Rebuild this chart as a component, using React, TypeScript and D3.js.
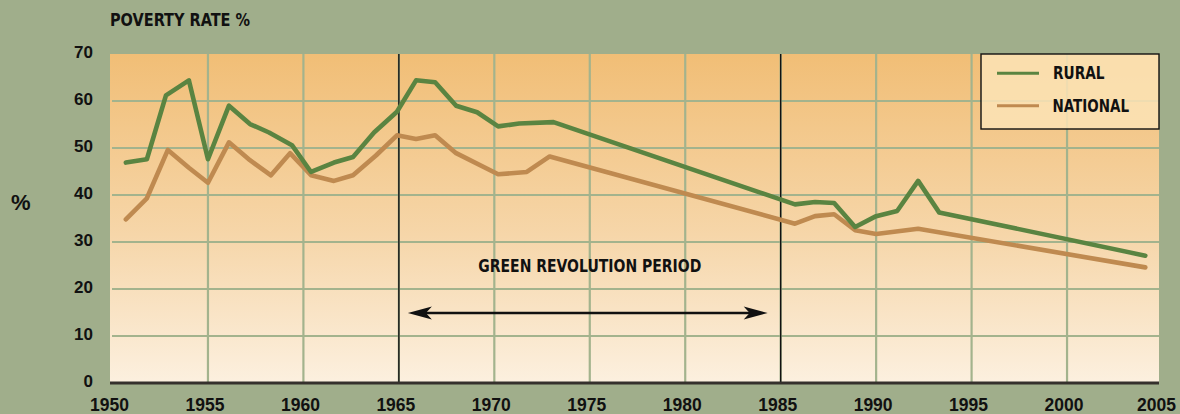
import React from "react";
import * as d3 from "d3";

const ruralYears = [1950.7, 1951.8, 1952.8, 1954.0, 1955.0, 1956.1, 1957.2, 1958.2, 1959.4, 1960.4, 1961.6, 1962.6, 1963.7, 1964.9, 1965.9, 1966.9, 1968.0, 1969.1, 1970.2, 1971.3, 1973.1, 1985.75, 1986.8, 1987.8, 1988.9, 1990.0, 1991.1, 1992.2, 1993.3, 2004.1];
const ruralValues = [46.9, 47.6, 61.2, 64.4, 47.6, 59.0, 55.1, 53.3, 50.6, 44.9, 46.9, 48.1, 53.3, 57.7, 64.4, 64.0, 59.0, 57.6, 54.6, 55.2, 55.5, 38.0, 38.5, 38.3, 33.2, 35.5, 36.6, 43.0, 36.3, 27.1];

const nationalYears = [1950.7, 1951.8, 1952.9, 1954.0, 1955.0, 1956.1, 1957.2, 1958.3, 1959.3, 1960.4, 1961.6, 1962.6, 1963.8, 1964.9, 1965.9, 1966.9, 1968.0, 1970.2, 1971.7, 1972.9, 1985.75, 1986.8, 1987.8, 1988.9, 1990.0, 1992.2, 2004.1];
const nationalValues = [34.8, 39.3, 49.6, 45.8, 42.6, 51.2, 47.4, 44.2, 48.9, 44.2, 43.0, 44.2, 48.4, 52.7, 51.9, 52.7, 48.9, 44.4, 44.9, 48.2, 33.9, 35.5, 35.9, 32.5, 31.7, 32.8, 24.6];

const xTicks = [1950, 1955, 1960, 1965, 1970, 1975, 1980, 1985, 1990, 1995, 2000, 2005];
const yTicks = [0, 10, 20, 30, 40, 50, 60, 70];
const periodStart = 1965;
const periodEnd = 1985;
const seriesNames = ["RURAL", "NATIONAL"];
const title = "POVERTY RATE %";
const annotation = "GREEN REVOLUTION PERIOD";

const W = 1180;
const H = 414;
const BG = "#a0ae8b";
const GRID = "#a3b38d";
const RURAL = "#5a8441";
const NATIONAL = "#bf8a50";
const COND = "'Liberation Sans Narrow', 'DejaVu Sans Condensed', 'Roboto Condensed', sans-serif";
const SANS = "'Liberation Sans', Arial, Helvetica, sans-serif";

export default function App() {
  const x = d3.scaleLinear().domain([1950, 2005]).range([112.5, 1162.5]);
  const y = d3.scaleLinear().domain([0, 70]).range([383, 54]);
  const plotL = 110;
  const plotR = 1159;
  const plotT = y(70);
  const plotB = y(0);

  const line = d3
    .line<[number, number]>()
    .x((d) => x(d[0]))
    .y((d) => y(d[1]));
  const ruralPath = line(ruralYears.map((yr, i) => [yr, ruralValues[i]]) as [number, number][]) || "";
  const nationalPath = line(nationalYears.map((yr, i) => [yr, nationalValues[i]]) as [number, number][]) || "";

  const arrowY = y(15);
  const aL = x(periodStart) + 9;
  const aR = x(periodEnd) - 13;

  const legX = 981;
  const legY = 54;
  const legW = 178;
  const legH = 75;

  return (
    <svg width={W} height={H} style={{ position: "absolute", left: 0, top: 0, display: "block" }}>
      <defs>
        <linearGradient id="plotGrad" x1="0" y1="0" x2="0" y2="1">
          <stop offset="0%" stopColor="#f1be76" />
          <stop offset="55%" stopColor="#f6d6a9" />
          <stop offset="100%" stopColor="#fcf0df" />
        </linearGradient>
      </defs>
      <rect x={0} y={0} width={W} height={H} fill={BG} />
      <rect x={plotL} y={plotT} width={plotR - plotL} height={plotB - plotT} fill="url(#plotGrad)" />

      {/* grid */}
      {yTicks.filter((t) => t > 0 && t < 70).map((t) => (
        <line key={"h" + t} x1={plotL + 2} x2={plotR} y1={y(t)} y2={y(t)} stroke={GRID} strokeWidth={2.2} />
      ))}
      {xTicks.filter((t) => t > 1950 && t < 2005).map((t) => (
        <line key={"v" + t} x1={x(t)} x2={x(t)} y1={plotT} y2={plotB} stroke={GRID} strokeWidth={2.2} />
      ))}

      {/* period lines */}
      {[periodStart, periodEnd].map((t) => (
        <line key={"p" + t} x1={x(t)} x2={x(t)} y1={plotT} y2={plotB + 1} stroke="#111" strokeWidth={1.4} />
      ))}

      {/* annotation */}
      <text
        x={(x(periodStart) + x(periodEnd)) / 2 + 0}
        y={272}
        textAnchor="middle"
        fontFamily={COND}
        fontWeight="bold"
        fontSize={17.5}
        fill="#111"
        textLength={223}
        lengthAdjust="spacingAndGlyphs"
      >
        {annotation}
      </text>
      <line x1={aL + 10} x2={aR - 10} y1={arrowY + 0.5} y2={arrowY + 0.5} stroke="#111" strokeWidth={2.4} />
      <path
        d={`M${aL},${arrowY + 0.5} L${aL + 24},${arrowY - 6} L${aL + 18},${arrowY + 0.5} L${aL + 24},${arrowY + 7} Z`}
        fill="#111"
      />
      <path
        d={`M${aR},${arrowY + 0.5} L${aR - 24},${arrowY - 6} L${aR - 18},${arrowY + 0.5} L${aR - 24},${arrowY + 7} Z`}
        fill="#111"
      />

      {/* series */}
      <path d={nationalPath} fill="none" stroke={NATIONAL} strokeWidth={4.6} strokeLinejoin="round" strokeLinecap="round" />
      <path d={ruralPath} fill="none" stroke={RURAL} strokeWidth={4.6} strokeLinejoin="round" strokeLinecap="round" />

      {/* x axis line */}
      <line x1={plotL} x2={plotR} y1={plotB} y2={plotB} stroke="#35302c" strokeWidth={2.8} />

      {/* y tick labels */}
      {yTicks.map((t) => (
        <text
          key={"yl" + t}
          x={93}
          y={y(t) - 2}
          dy="0.36em"
          textAnchor="end"
          fontFamily={SANS}
          fontWeight="bold"
          fontSize={17}
          fill="#111"
        >
          {t}
        </text>
      ))}
      {/* x tick labels */}
      {xTicks.map((t) => (
        <text
          key={"xl" + t}
          x={t === 2005 ? x(t) - 6 : x(t) - 3}
          y={411}
          textAnchor="middle"
          fontFamily={SANS}
          fontWeight="bold"
          fontSize={17.5}
          fill="#111"
        >
          {t}
        </text>
      ))}

      {/* titles */}
      <text x={110} y={26} fontFamily={COND} fontWeight="bold" fontSize={17.5} fill="#111" textLength={140} lengthAdjust="spacingAndGlyphs">
        {title}
      </text>
      <text x={11} y={210} fontFamily={SANS} fontWeight="bold" fontSize={22} fill="#111">
        %
      </text>

      {/* legend */}
      <rect x={legX} y={legY} width={legW} height={legH} fill="#fbe3b6" fillOpacity={0.86} stroke="#111" strokeWidth={1.4} />
      <line x1={997} x2={1039} y1={73.3} y2={73.3} stroke={RURAL} strokeWidth={3} />
      <line x1={997} x2={1039} y1={105.7} y2={105.7} stroke={NATIONAL} strokeWidth={3} />
      <text x={1053} y={79} fontFamily={COND} fontWeight="bold" fontSize={17.5} fill="#111" textLength={51.5} lengthAdjust="spacingAndGlyphs">
        {seriesNames[0]}
      </text>
      <text x={1052.5} y={112} fontFamily={COND} fontWeight="bold" fontSize={17.5} fill="#111" textLength={76.5} lengthAdjust="spacingAndGlyphs">
        {seriesNames[1]}
      </text>
    </svg>
  );
}
